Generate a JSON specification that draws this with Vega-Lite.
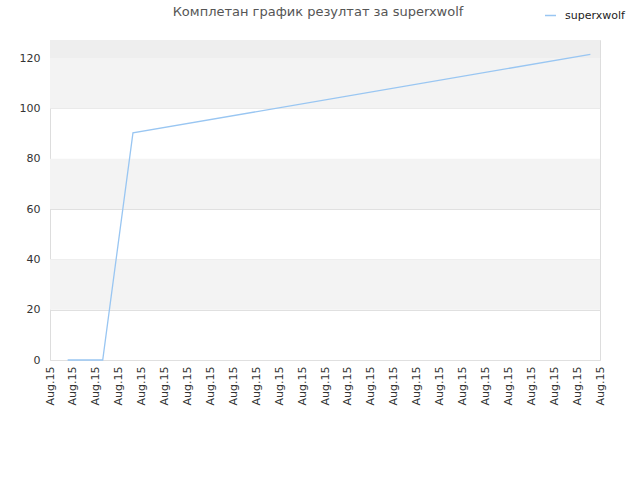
{
  "$schema": "https://vega.github.io/schema/vega-lite/v6.json",
  "width": 550,
  "height": 320,
  "autosize": {"type": "none"},
  "padding": {"left": 50, "top": 40, "right": 40, "bottom": 120},
  "background": "#ffffff",
  "title": {
    "text": "Комплетан график резултат за superxwolf",
    "fontSize": 13,
    "font": "DejaVu Sans",
    "fontWeight": "normal",
    "color": "#555555",
    "anchor": "middle",
    "dx": -7,
    "offset": -10
  },
  "config": {
    "view": {"stroke": "#dddddd", "strokeWidth": 1},
    "font": "DejaVu Sans",
    "axis": {"labelFont": "DejaVu Sans", "labelFontSize": 11, "labelColor": "#333333"}
  },
  "datasets": {
    "bands": [
      {"y0": 20, "y1": 40},
      {"y0": 60, "y1": 80},
      {"y0": 100, "y1": 120}
    ],
    "top": [{"y0": 120, "y1": 127.2}],
    "series": [
      {"t": 0.77, "score": 0, "player": "superxwolf"},
      {"t": 2.3, "score": 0, "player": "superxwolf"},
      {"t": 3.62, "score": 90.3, "player": "superxwolf"},
      {"t": 23.58, "score": 121.5, "player": "superxwolf"}
    ]
  },
  "layer": [
    {
      "data": {"name": "bands"},
      "mark": {"type": "rect", "color": "#f3f3f3"},
      "encoding": {
        "y": {"field": "y0", "type": "quantitative", "scale": {"domain": [0, 127.2], "nice": false, "zero": false}},
        "y2": {"field": "y1"}
      }
    },
    {
      "data": {"name": "top"},
      "mark": {"type": "rect", "color": "#eeeeee"},
      "encoding": {
        "y": {"field": "y0", "type": "quantitative"},
        "y2": {"field": "y1"}
      }
    },
    {
      "data": {"name": "series"},
      "mark": {"type": "line", "strokeWidth": 1.3, "interpolate": "linear"},
      "encoding": {
        "x": {
          "field": "t",
          "type": "quantitative",
          "scale": {"domain": [0, 24], "nice": false, "zero": false},
          "axis": {
            "title": null,
            "values": [0,1,2,3,4,5,6,7,8,9,10,11,12,13,14,15,16,17,18,19,20,21,22,23,24],
            "labelExpr": "'Aug.15'",
            "labelAngle": -90,
            "labelAlign": "right",
            "labelBaseline": "middle",
            "grid": false,
            "ticks": false,
            "domain": false,
            "labelPadding": 6,
            "labelOverlap": false,
            "labelBound": false,
            "labelFlush": false
          }
        },
        "y": {
          "field": "score",
          "type": "quantitative",
          "scale": {"domain": [0, 127.2], "nice": false, "zero": false},
          "axis": {
            "title": null,
            "values": [0, 20, 40, 60, 80, 100, 120],
            "grid": true,
            "gridColor": "#e0e0e0",
            "ticks": false,
            "domain": false,
            "labelPadding": 10
          }
        },
        "color": {
          "field": "player",
          "type": "nominal",
          "scale": {"range": ["#99c6f2"]},
          "legend": {
            "title": null,
            "orient": "none",
            "legendX": 494,
            "legendY": -31,
            "symbolType": "stroke",
            "symbolSize": 120,
            "symbolStrokeWidth": 1.5,
            "labelOffset": 8,
            "labelFontSize": 11,
            "labelColor": "#222222",
            "labelFont": "DejaVu Sans"
          }
        }
      }
    }
  ]
}
